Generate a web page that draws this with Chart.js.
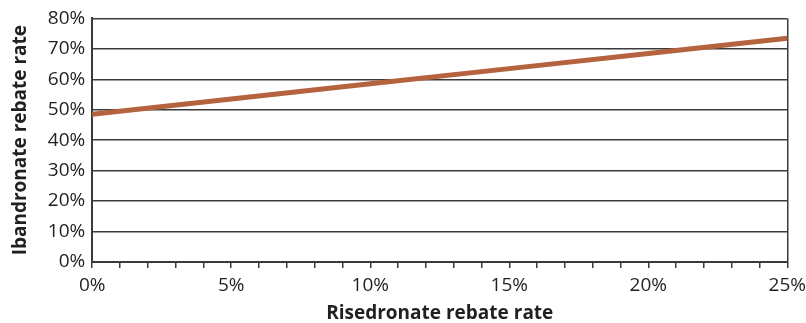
<!DOCTYPE html>
<html>
<head>
<meta charset="utf-8">
<script src="https://cdn.jsdelivr.net/npm/chart.js@4"></script>
<style>
  html, body { margin: 0; padding: 0; background: #fff; }
  #wrap { width: 806px; height: 323px; }
</style>
</head>
<body>
<div id="wrap"><canvas id="rebate" width="806" height="323"></canvas></div>
<script>
// risedronate rebate (x, %) vs ibandronate rebate (y, %)
const risedronateRate = [0, 5, 10, 15, 20, 25];
const ibandronateRate = [48.5, 53.5, 58.5, 63.5, 68.5, 73.5];
const xTickLabels = ['0%', '5%', '10%', '15%', '20%', '25%'];
const yTickLabels = ['0%', '10%', '20%', '30%', '40%', '50%', '60%', '70%', '80%'];

const axisColor = '#3a3a3a';
const font = "'Open Sans', 'Noto Sans', sans-serif";

const points = risedronateRate.map((x, i) => ({ x: x, y: ibandronateRate[i] }));

const ctx = document.getElementById('rebate').getContext('2d');
new Chart(ctx, {
  type: 'line',
  data: {
    datasets: [{
      data: points,
      borderColor: '#b5633f',
      borderWidth: 5,
      borderCapStyle: 'round',
      pointRadius: 0,
      tension: 0,
      fill: false
    }]
  },
  options: {
    responsive: false,
    animation: false,
    layout: { padding: { left: 9, right: 15, top: 6, bottom: 0 } },
    plugins: { legend: { display: false }, tooltip: { enabled: false } },
    scales: {
      x: {
        type: 'linear',
        min: 0,
        max: 25,
        ticks: {
          stepSize: 1,
          autoSkip: false,
          maxRotation: 0,
          color: '#231f20',
          font: { family: font, size: 19, lineHeight: 1.9 },
          padding: 0,
          callback: v => (v % 5 === 0 ? xTickLabels[v / 5] : '')
        },
        grid: {
          color: c => (c.tick && c.tick.value === 25 ? axisColor : 'rgba(0,0,0,0)'),
          tickColor: axisColor,
          tickLength: 6,
          lineWidth: 1.5
        },
        border: { color: axisColor, width: 2 },
        title: {
          display: true,
          text: 'Risedronate rebate rate',
          color: '#231f20',
          font: { family: font, size: 19, weight: 'bold', lineHeight: 1 },
          padding: { top: 0, bottom: 0 }
        }
      },
      y: {
        min: 0,
        max: 80,
        ticks: {
          stepSize: 10,
          color: '#231f20',
          font: { family: font, size: 19 },
          padding: 7,
          callback: v => yTickLabels[v / 10]
        },
        grid: { color: axisColor, lineWidth: 1.5, drawTicks: false },
        border: { color: axisColor, width: 2 },
        title: {
          display: true,
          text: 'Ibandronate rebate rate',
          color: '#231f20',
          font: { family: font, size: 19, weight: 'bold' },
          padding: { top: 0, bottom: 9 }
        }
      }
    }
  }
});
</script>
</body>
</html>
